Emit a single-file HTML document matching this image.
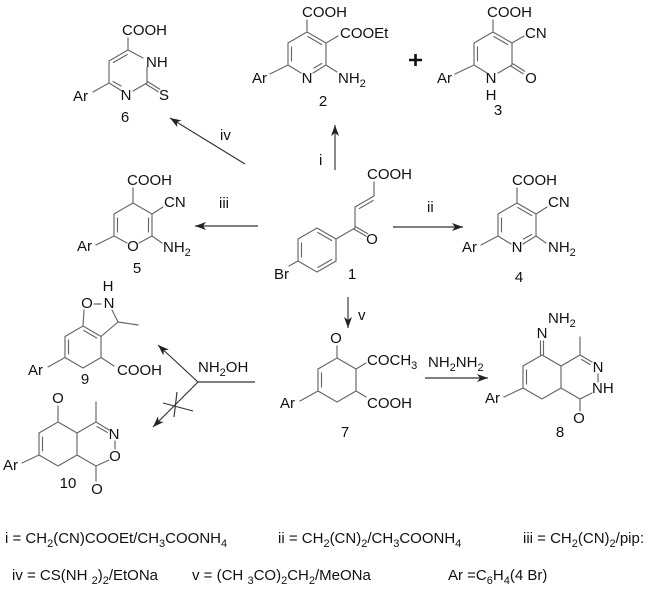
<!DOCTYPE html>
<html>
<head>
<meta charset="utf-8">
<style>
  html,body{margin:0;padding:0;background:#fff;}
  svg{display:block;}
  text{font-family:"Liberation Sans",Arial,sans-serif;font-size:15px;fill:#111;}
  .b{stroke:#666;stroke-width:1.15;fill:none;stroke-linecap:round;}
  .a{stroke:#333;stroke-width:1.15;fill:none;}
  .m{text-anchor:middle;}
</style>
</head>
<body>
<svg width="651" height="590" viewBox="0 0 651 590" xmlns="http://www.w3.org/2000/svg">
<defs>
  <marker id="ah" markerWidth="12" markerHeight="8" refX="11" refY="4" orient="auto" markerUnits="userSpaceOnUse">
    <path d="M0,0 L11,4 L0,8 L3,4 z" fill="#222"/>
  </marker>
</defs>
<rect width="651" height="590" fill="#fff"/>

<!-- ===== Compound 6 ===== -->
<text x="122" y="35">COOH</text>
<path class="b" d="M128,38 L128,50 M128,50 L143,58 M147,67 L147,83 M147,83 L133,91 M122,91 L109,83 M109,83 L109,61 M109,61 L128,50
 M113.4,62.5 L127.2,54.5 M113,81.5 L121,86
 M146.2,84.3 L158.2,91.8 M147.8,81.7 L159.8,89.2
 M93,92 L109,83"/>
<text x="146" y="67">NH</text>
<text class="m" x="126" y="100">N</text>
<text x="159" y="100">S</text>
<text x="73" y="101">Ar</text>
<text class="m" x="125" y="122">6</text>

<!-- ===== Compound 2 ===== -->
<text x="302" y="17">COOH</text>
<path class="b" d="M307,20 L307,32 M307,32 L326,43 M307.85,36.5 L321.65,44.5 M326,43 L326,65 M326,65 L313,73 M321.6,63.5 L314,68
 M301,73 L288,65 M288,65 L288,43 M291.5,47 L291.5,61 M288,43 L307,32
 M326,43 L338,36 M326,65 L337,72 M270,74 L288,65"/>
<text x="340" y="38">COOEt</text>
<text class="m" x="307" y="83">N</text>
<text x="338" y="83">NH<tspan font-size="11" dy="4">2</tspan></text>
<text x="252" y="83">Ar</text>
<text class="m" x="323" y="106">2</text>

<!-- plus -->
<path d="M409,60 L422,60 M415.5,54 L415.5,66" stroke="#111" stroke-width="2.6"/>

<!-- ===== Compound 3 ===== -->
<text x="487" y="17">COOH</text>
<path class="b" d="M493,20 L493,32 M493,32 L512,43 M493.85,36.5 L507.65,44.5 M512,43 L512,65 M512,65 L498,73
 M487,73 L474,65 M474,65 L474,43 M477.5,47 L477.5,61 M474,43 L493,32
 M512,43 L524,36 M511.2,66.3 L523.2,73.8 M512.8,63.7 L524.8,71.2 M455,74 L474,65"/>
<text x="525" y="38">CN</text>
<text class="m" x="531" y="83">O</text>
<text class="m" x="491" y="83">N</text>
<text class="m" x="491" y="100">H</text>
<text x="437" y="83">Ar</text>
<text class="m" x="498" y="115">3</text>

<!-- ===== Arrows from 1 ===== -->
<line class="a" x1="335" y1="170" x2="335" y2="125" marker-end="url(#ah)"/>
<text x="319" y="165">i</text>
<line class="a" x1="245" y1="164" x2="170" y2="118" marker-end="url(#ah)"/>
<text x="220" y="140">iv</text>
<line class="a" x1="258" y1="226" x2="195" y2="226" marker-end="url(#ah)"/>
<text x="219" y="208">iii</text>
<line class="a" x1="393" y1="227" x2="463" y2="227" marker-end="url(#ah)"/>
<text x="427" y="212">ii</text>
<line class="a" x1="348" y1="297" x2="348" y2="328" marker-end="url(#ah)"/>
<text x="358" y="320">v</text>

<!-- ===== Compound 1 ===== -->
<text x="367" y="179">COOH</text>
<path class="b" d="M374,182 L374,196 M374,196 L355,207 M373.15,200.5 L359.35,208.5 M355,207 L355,228
 M354.25,229.3 L366.25,236.3 M355.75,226.7 L367.75,233.7 M355,228 L336,239
 M317,228 L336,239 L336,261 L317,272 L298,261 L298,239 Z
 M317.85,232.5 L331.65,240.5 M301.5,243 L301.5,257 M331.65,259.5 L317.85,267.5
 M298,261 L289,266"/>
<text class="m" x="372" y="244">O</text>
<text x="274" y="279">Br</text>
<text class="m" x="352" y="279">1</text>

<!-- ===== Compound 5 ===== -->
<text x="127" y="185">COOH</text>
<path class="b" d="M133,188 L133,203 M133,203 L152,214 M152,214 L152,236 M148.5,218 L148.5,232 M152,236 L139,243
 M127,243 L114,236 M114,236 L114,214 M117.5,218 L117.5,232 M114,214 L133,203
 M152,214 L163,207 M152,236 L162,243 M96,245 L114,236"/>
<text x="164" y="207">CN</text>
<text x="163" y="252">NH<tspan font-size="11" dy="4">2</tspan></text>
<text class="m" x="133" y="251">O</text>
<text x="77" y="251">Ar</text>
<text class="m" x="137" y="273">5</text>

<!-- ===== Compound 4 ===== -->
<text x="512" y="185">COOH</text>
<path class="b" d="M517,188 L517,203 M517,203 L536,214 M517.85,207.5 L531.65,215.5 M536,214 L536,236 M536,236 L523,244 M531.65,234.5 L523.5,239
 M511,244 L498,236 M498,236 L498,214 M501.5,218 L501.5,232 M498,214 L517,203
 M536,214 L547,207 M536,236 L546,243 M481,245 L498,236"/>
<text x="548" y="207">CN</text>
<text x="548" y="252">NH<tspan font-size="11" dy="4">2</tspan></text>
<text class="m" x="517" y="252">N</text>
<text x="462" y="252">Ar</text>
<text class="m" x="519" y="282">4</text>

<!-- ===== Compound 7 ===== -->
<text class="m" x="336" y="343">O</text>
<path class="b" d="M337,346 L337,358 M337,358 L356,369 L356,391 L337,402 L318,391 L318,369 Z
 M321.5,373 L321.5,387 M356,369 L366,363 M356,391 L366,397 M300,401 L318,391"/>
<text x="367" y="365">COCH<tspan font-size="11" dy="4">3</tspan></text>
<text x="367" y="408">COOH</text>
<text x="280" y="408">Ar</text>
<text class="m" x="345" y="437">7</text>

<!-- NH2NH2 arrow -->
<line class="a" x1="425" y1="378" x2="488" y2="378" marker-end="url(#ah)"/>
<text x="428" y="367">NH<tspan font-size="11" dy="4">2</tspan><tspan dy="-4">NH</tspan><tspan font-size="11" dy="4">2</tspan></text>

<!-- ===== Compound 8 ===== -->
<text x="548" y="323">NH<tspan font-size="11" dy="4">2</tspan></text>
<text class="m" x="542" y="338">N</text>
<path class="b" d="M540.5,341 L540.5,355 M543.5,341 L543.5,355
 M542,355 L561,366 L561,388 L542,399 L523,388 L523,366 Z
 M526.5,370 L526.5,384
 M561,366 L580,355 M580,355 L592,362 M581.7,359.5 L590,364.5 M580,355 L580,337
 M598,374 L598,382 M592,393 L580,399 M580,399 L561,388 M580,399 L580,411
 M504,397 L523,388"/>
<text class="m" x="598" y="372">N</text>
<text x="592" y="393">NH</text>
<text class="m" x="579" y="423">O</text>
<text x="485" y="403">Ar</text>
<text class="m" x="560" y="437">8</text>

<!-- ===== NH2OH fork ===== -->
<text x="198" y="372">NH<tspan font-size="11" dy="4">2</tspan><tspan dy="-4">OH</tspan></text>
<line class="a" x1="198" y1="382" x2="255" y2="382"/>
<line class="a" x1="198" y1="382" x2="158" y2="345" marker-end="url(#ah)"/>
<line class="a" x1="198" y1="382" x2="153" y2="427" marker-end="url(#ah)"/>
<path class="a" d="M163,403 L193,411 M177,392 L174,417"/>

<!-- ===== Compound 9 ===== -->
<text class="m" x="108" y="291">H</text>
<text class="m" x="87" y="308">O</text>
<text class="m" x="109" y="308">N</text>
<path class="b" d="M94,304 L101,304 M84,310 L83,326 M112,310 L118,322 M118,322 L101,336.5 M118,322 L138,325
 M83,326 L101,336.5 L101,357.5 L83,368 L65,357.5 L65,336.5 Z
 M83.85,330.5 L96.65,338 M68.5,340 L68.5,354
 M101,357.5 L114,366 M48,367 L65,357.5"/>
<text x="117" y="375">COOH</text>
<text x="28" y="375">Ar</text>
<text class="m" x="85" y="384">9</text>

<!-- ===== Compound 10 ===== -->
<text class="m" x="58" y="403">O</text>
<path class="b" d="M58,406 L58,422 M58,422 L77,433 L77,455 L58,466 L39,455 L39,433 Z
 M42.5,437 L42.5,451 M22,463 L39,455
 M77,433 L96,422 M96,422 L96,402 M96,422 L109,430 M97,426.5 L107.5,432.5
 M115,441 L115,449 M109,460 L96,466 M96,466 L77,455 M96,466 L96,481"/>
<text class="m" x="114" y="439">N</text>
<text class="m" x="115" y="461">O</text>
<text class="m" x="97" y="494">O</text>
<text x="3" y="470">Ar</text>
<text class="m" x="68" y="488">10</text>

<!-- ===== Legend ===== -->
<text x="5" y="543">i = CH<tspan font-size="11" dy="4">2</tspan><tspan dy="-4">(CN)COOEt/CH</tspan><tspan font-size="11" dy="4">3</tspan><tspan dy="-4">COONH</tspan><tspan font-size="11" dy="4">4</tspan></text>
<text x="278" y="543">ii = CH<tspan font-size="11" dy="4">2</tspan><tspan dy="-4">(CN)</tspan><tspan font-size="11" dy="4">2</tspan><tspan dy="-4">/CH</tspan><tspan font-size="11" dy="4">3</tspan><tspan dy="-4">COONH</tspan><tspan font-size="11" dy="4">4</tspan></text>
<text x="523" y="543">iii = CH<tspan font-size="11" dy="4">2</tspan><tspan dy="-4">(CN)</tspan><tspan font-size="11" dy="4">2</tspan><tspan dy="-4">/pip:</tspan></text>
<text x="12" y="580">iv = CS(NH <tspan font-size="11" dy="4">2</tspan><tspan dy="-4">)</tspan><tspan font-size="11" dy="4">2</tspan><tspan dy="-4">/EtONa</tspan></text>
<text x="192" y="580">v = (CH <tspan font-size="11" dy="4">3</tspan><tspan dy="-4">CO)</tspan><tspan font-size="11" dy="4">2</tspan><tspan dy="-4">CH</tspan><tspan font-size="11" dy="4">2</tspan><tspan dy="-4">/MeONa</tspan></text>
<text x="448" y="580">Ar =C<tspan font-size="11" dy="4">6</tspan><tspan dy="-4">H</tspan><tspan font-size="11" dy="4">4</tspan><tspan dy="-4">(4 Br)</tspan></text>
</svg>
</body>
</html>
